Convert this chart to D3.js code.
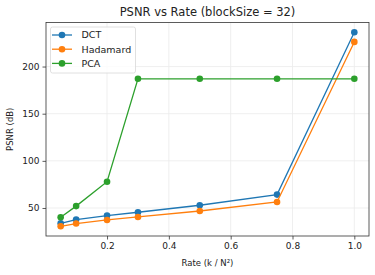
<!DOCTYPE html>
<html>
<head>
<meta charset="utf-8">
<script src="https://cdn.jsdelivr.net/npm/d3@7"></script>
<style>
body { margin: 0; background: #fff; }
text { font-family: "DejaVu Sans", sans-serif; fill: #222; }
</style>
</head>
<body>
<div id="chart"></div>
<script>
var rates = [0.05, 0.1, 0.2, 0.3, 0.5, 0.75, 1.0];
var dctValues = [33.8, 37.7, 42, 45.5, 52.9, 64.2, 236.4];
var hadamardValues = [30.6, 33.5, 37.3, 40.5, 46.8, 56.4, 226.1];
var pcaValues = [40.2, 52, 77.9, 187, 187, 187, 187];
var seriesNames = ["DCT", "Hadamard", "PCA"];
var xTicks = [0.2, 0.4, 0.6, 0.8, 1.0];
var yTicks = [50, 100, 150, 200];

var svgWidth = 375;
var svgHeight = 275;
var margin = { top: 22.5, right: 6, bottom: 39, left: 46 };
var chartWidth = svgWidth - margin.left - margin.right;
var chartHeight = svgHeight - margin.top - margin.bottom;

var colors = ["#1f77b4", "#ff7f0e", "#2ca02c"];
var seriesValues = [dctValues, hadamardValues, pcaValues];

var svg = d3.select("#chart")
    .append("svg")
    .attr("width", svgWidth)
    .attr("height", svgHeight);

var chartGroup = svg.append("g")
    .attr("transform", `translate(${margin.left}, ${margin.top})`);

// matplotlib style 5% margins
var xMin = d3.min(rates), xMax = d3.max(rates);
var xPad = (xMax - xMin) * 0.05;
var allY = dctValues.concat(hadamardValues, pcaValues);
var yMin = d3.min(allY), yMax = d3.max(allY);
var yPad = (yMax - yMin) * 0.05;

var xScale = d3.scaleLinear()
    .domain([xMin - xPad, xMax + xPad])
    .range([0, chartWidth]);

var yScale = d3.scaleLinear()
    .domain([yMin - yPad, yMax + yPad])
    .range([chartHeight, 0]);

// grid
chartGroup.append("g")
    .selectAll("line")
    .data(xTicks)
    .enter()
    .append("line")
    .attr("x1", d => xScale(d))
    .attr("x2", d => xScale(d))
    .attr("y1", 0)
    .attr("y2", chartHeight)
    .attr("stroke", "#ebebeb")
    .attr("stroke-width", 0.8);

chartGroup.append("g")
    .selectAll("line")
    .data(yTicks)
    .enter()
    .append("line")
    .attr("x1", 0)
    .attr("x2", chartWidth)
    .attr("y1", d => yScale(d))
    .attr("y2", d => yScale(d))
    .attr("stroke", "#ebebeb")
    .attr("stroke-width", 0.8);

// axes
var bottomAxis = d3.axisBottom(xScale).tickValues(xTicks).tickSize(3.5).tickPadding(3).tickFormat(d3.format(".1f"));
var leftAxis = d3.axisLeft(yScale).tickValues(yTicks).tickSize(3.5).tickPadding(3);

var xAxisG = chartGroup.append("g")
    .attr("transform", `translate(0, ${chartHeight})`)
    .call(bottomAxis);

var yAxisG = chartGroup.append("g")
    .call(leftAxis);

[xAxisG, yAxisG].forEach(function (g) {
    g.select(".domain").remove();
    g.selectAll("line").attr("stroke", "#333").attr("stroke-width", 0.8);
    g.selectAll("text").style("font-size", "9px").attr("fill", "#222");
});

// lines and markers
var line = d3.line()
    .x((d, i) => xScale(rates[i]))
    .y(d => yScale(d));

seriesValues.forEach(function (vals, s) {
    chartGroup.append("path")
        .datum(vals)
        .attr("d", line)
        .attr("fill", "none")
        .attr("stroke", colors[s])
        .attr("stroke-width", 1.3);

    chartGroup.append("g")
        .selectAll("circle")
        .data(vals)
        .enter()
        .append("circle")
        .attr("cx", (d, i) => xScale(rates[i]))
        .attr("cy", d => yScale(d))
        .attr("r", 3.3)
        .attr("fill", colors[s]);
});

// frame
chartGroup.append("rect")
    .attr("width", chartWidth)
    .attr("height", chartHeight)
    .attr("fill", "none")
    .attr("stroke", "#333")
    .attr("stroke-width", 0.8);

// legend
var legend = chartGroup.append("g")
    .attr("transform", "translate(4.5, 4.5)");

legend.append("rect")
    .attr("width", 85)
    .attr("height", 46)
    .attr("rx", 2)
    .attr("fill", "#fff")
    .attr("fill-opacity", 0.8)
    .attr("stroke", "#d8d8d8")
    .attr("stroke-width", 0.8);

seriesNames.forEach(function (name, s) {
    var ly = 8 + s * 14.2;
    legend.append("line")
        .attr("x1", 1.5)
        .attr("x2", 21.5)
        .attr("y1", ly)
        .attr("y2", ly)
        .attr("stroke", colors[s])
        .attr("stroke-width", 1.3);
    legend.append("circle")
        .attr("cx", 11.5)
        .attr("cy", ly)
        .attr("r", 3.3)
        .attr("fill", colors[s]);
    legend.append("text")
        .attr("x", 31)
        .attr("y", ly)
        .attr("dy", "0.35em")
        .style("font-size", "9.5px")
        .text(name);
});

// title and labels
svg.append("text")
    .attr("x", margin.left + chartWidth / 2)
    .attr("y", 16)
    .attr("text-anchor", "middle")
    .style("font-size", "11.5px")
    .text("PSNR vs Rate (blockSize = 32)");

svg.append("text")
    .attr("transform", `translate(13, ${margin.top + chartHeight / 2}) rotate(-90)`)
    .attr("text-anchor", "middle")
    .style("font-size", "8.5px")
    .text("PSNR (dB)");

svg.append("text")
    .attr("x", margin.left + chartWidth / 2)
    .attr("y", 266)
    .attr("text-anchor", "middle")
    .style("font-size", "8.5px")
    .text("Rate (k / N²)");
</script>
</body>
</html>
